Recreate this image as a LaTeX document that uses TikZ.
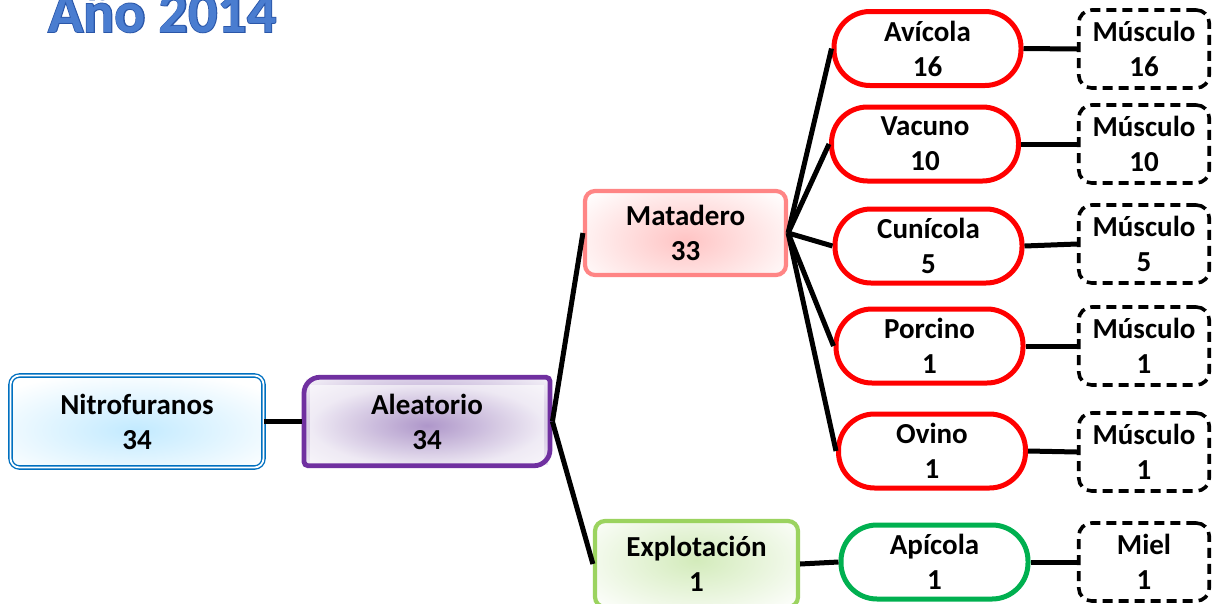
\documentclass[tikz,border=0pt]{standalone}
\usepackage{fontspec}
\setmainfont{Carlito}
\newfontfamily\titleoutline[FakeBold=3]{Carlito Bold}
\newfontfamily\titlefill{Carlito Bold}
\usetikzlibrary{backgrounds}

\definecolor{nitroblue}{HTML}{0070C0}
\definecolor{nitroglow}{HTML}{C2EAFF}
\definecolor{aleacol}{HTML}{7030A0}
\definecolor{aleaglow}{HTML}{9D80BE}
\definecolor{matacol}{HTML}{FF8585}
\definecolor{mataglow}{HTML}{FFC4C4}
\definecolor{explocol}{HTML}{9BD35F}
\definecolor{exploglow}{HTML}{D3EBBB}
\definecolor{pillred}{HTML}{FF0000}
\definecolor{pillgreen}{HTML}{00B050}
\definecolor{titleblue}{HTML}{4A7DD0}
\definecolor{titledark}{HTML}{2A56A8}

\begin{document}
\begin{tikzpicture}[x=1pt,y=-1pt,
  lbl/.style={font=\fontsize{29}{35}\selectfont\bfseries, align=center, inner sep=0pt, text=black},
  nitrobox/.style={lbl, draw=nitroblue, double=white, line width=1.4pt, double distance=1.8pt,
    rounded corners=9pt, minimum width=253pt, minimum height=92pt},
  aleabox/.style={lbl, outer sep=2.4pt, minimum width=246pt, minimum height=88.5pt},
  squarebox/.style={lbl, line width=4.2pt, rounded corners=10pt},
  pill/.style={lbl, draw=pillred, line width=5pt, rounded corners=36pt,
    minimum width=187pt, minimum height=74pt},
  tissue/.style={lbl, draw=black, line width=3.6pt, dash pattern=on 10pt off 6pt,
    rounded corners=13pt, minimum width=130.5pt, minimum height=78pt},
  link/.style={line width=5pt, draw=black}]

\useasboundingbox (0,0) rectangle (1216,603);

% heading
\node[anchor=base west, inner sep=0pt, font=\titleoutline\fontsize{58}{58}\selectfont, text=titledark]
  (title) at (48,32) {Año 2014};
\node[anchor=base west, inner sep=0pt, font=\titlefill\fontsize{58}{58}\selectfont, text=titleblue]
  (titlefront) at (title.base west) {Año 2014};

% first levels
\node[nitrobox] (nitro) at (137,421.5) {Nitrofuranos\\34};
\node[aleabox] (alea) at (427,421.5) {Aleatorio\\34};
\node[squarebox, draw=matacol, minimum width=201pt, minimum height=84pt] (mata) at (685.5,233) {Matadero\\33};
\node[squarebox, draw=explocol, minimum width=203pt, minimum height=86pt] (explo) at (696.5,564) {Explotación\\1};

% border of the sampling box: large radius on one diagonal, small on the other
\draw[line width=4.8pt, aleacol]
  (304,393.25) arc[start angle=180, end angle=90, radius=16pt]
  -- (546,377.25) arc[start angle=90, end angle=0, radius=4pt]
  -- (550,449.75) arc[start angle=0, end angle=-90, radius=16pt]
  -- (308,465.75) arc[start angle=-90, end angle=-180, radius=4pt]
  -- cycle;

% species
\node[pill] (avi) at (927.5,48.5) {Avícola\\16};
\node[pill] (vac) at (925,144) {Vacuno\\10};
\node[pill] (cun) at (928.5,246) {Cunícola\\5};
\node[pill] (por) at (929.5,346) {Porcino\\1};
\node[pill] (ovi) at (932,451) {Ovino\\1};
\node[pill, draw=pillgreen] (api) at (934.5,562) {Apícola\\1};

% matrices
\node[tissue] (m1) at (1144,49) {Músculo\\16};
\node[tissue] (m2) at (1144,144) {Músculo\\10};
\node[tissue] (m3) at (1144,244) {Músculo\\5};
\node[tissue] (m4) at (1144,346) {Músculo\\1};
\node[tissue] (m5) at (1144,452) {Músculo\\1};
\node[tissue] (miel) at (1144,562) {Miel\\1};

% connectors
\draw[link] (nitro.east) -- (alea.west);
\draw[link] (alea.east) -- (mata.west);
\draw[link] (alea.east) -- (explo.west);
\foreach \s in {avi,vac,cun,por,ovi}{
  \draw[link] (mata.east) -- (\s.west);
}
\draw[link] (explo.east) -- (api.west);
\draw[link] (avi.east) -- (m1.west);
\draw[link] (vac.east) -- (m2.west);
\draw[link] (cun.east) -- (m3.west);
\draw[link] (por.east) -- (m4.west);
\draw[link] (ovi.east) -- (m5.west);
\draw[link] (api.east) -- (miel.west);

% soft glows behind the labels
\begin{scope}[on background layer]
  \begin{scope}
    \clip (12,376) rectangle (263,466);
    \shade[inner color=nitroglow, outer color=white] (-35,370) rectangle (305,490);
  \end{scope}
  \begin{scope}
    \clip (306,379) rectangle (548,464);
    \shade[inner color=aleaglow, outer color=white] (237,350) rectangle (617,500);
    \shade[inner color=aleaglow!70, outer color=white, opacity=0.6] (310,385) rectangle (544,466);
  \end{scope}
  \begin{scope}
    \clip (587,193) rectangle (784,273);
    \shade[inner color=mataglow, outer color=white] (555,170) rectangle (815,310);
  \end{scope}
  \begin{scope}
    \clip (597,523) rectangle (796,603);
    \shade[inner color=exploglow, outer color=white] (556,490) rectangle (836,630);
  \end{scope}
\end{scope}
\end{tikzpicture}
\end{document}
